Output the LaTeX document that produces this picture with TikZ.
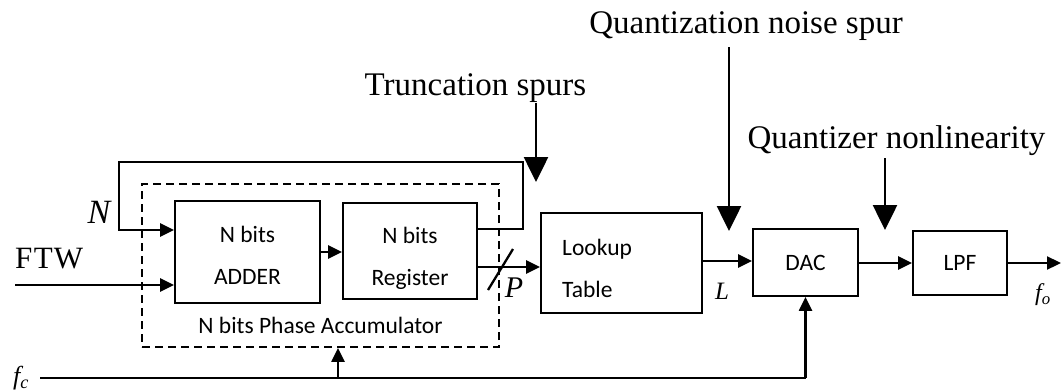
\documentclass[tikz,border=0pt]{standalone}
\usepackage{fontspec}
\setmainfont{Liberation Serif}
\newfontfamily\boxfont{Carlito}
\usetikzlibrary{arrows.meta}
\begin{document}
\begin{tikzpicture}[x=1pt,y=-1pt,
 blk/.style={draw, line width=1.8pt, rectangle, inner sep=0pt},
 btxt/.style={font=\boxfont\fontsize{23.5}{42}\selectfont, align=center, inner sep=0pt},
 flow/.style={line width=2.3pt, -{Triangle[width=13pt,length=14pt]}},
 wire/.style={line width=2.3pt},
 spur/.style={line width=2.6pt, -{Triangle[width=24pt,length=25pt]}},
 lbl/.style={font=\fontsize{33}{36}\selectfont, inner sep=0pt, anchor=base},
 var/.style={font=\itshape\fontsize{30}{32}\selectfont, inner sep=0pt},
 ]
\useasboundingbox[fill=white] (0,0) rectangle (1061,391);
% boxes
\node[blk, minimum width=145pt, minimum height=102pt] (adder) at (247.5,252) {};
\node[btxt] (addert) at (247.5,255) {N bits\\ADDER};
\node[blk, minimum width=134pt, minimum height=96pt] (reg) at (410,251) {};
\node[btxt] (regt) at (410,258) {N bits\\Register};
\node[blk, minimum width=161pt, minimum height=100pt] (lut) at (621.5,263) {};
\node[btxt, align=left, anchor=west] (lutt) at (562,268) {Lookup\\Table};
\node[blk, minimum width=105pt, minimum height=67pt] (dac) at (805.5,262.5) {};
\node[btxt] (dact) at (dac.center) {DAC};
\node[blk, minimum width=94pt, minimum height=64pt] (lpf) at (960,263) {};
\node[btxt] (lpft) at (lpf.center) {LPF};
% accumulator
\node[draw, line width=1.8pt, dash pattern=on 8pt off 5pt, minimum width=357pt, minimum height=163pt, inner sep=0pt] (acc) at (320.5,265.5) {};
\node[btxt] (acct) at (320.5,325) {N bits Phase Accumulator};
% labels
\node[lbl] (trunc) at (475.5,95) {Truncation spurs};
\node[lbl] (qnoise) at (746,33) {Quantization noise spur};
\node[lbl] (qnl) at (896.5,148) {Quantizer nonlinearity};
\node[font=\fontsize{31}{32}\selectfont, inner sep=0pt, anchor=base west] (ftw) at (15,268) {F\kern1.5pt T\kern1pt W};
\node[var, font=\itshape\fontsize{34}{36}\selectfont] (nlab) at (99,212) {N};
\node[var, font=\itshape\fontsize{30}{32}\selectfont] (plab) at (514,288) {P};
\node[var, font=\itshape\fontsize{25}{28}\selectfont] (llab) at (722,291) {L};
\node[var, font=\itshape\fontsize{26}{28}\selectfont] (fclab) at (21,378) {f\textsubscript{c}};
\node[var, font=\itshape\fontsize{24}{28}\selectfont] (folab) at (1043,295) {f\textsubscript{o}};
% coordinates
\coordinate (ftwin) at (15,285);
\coordinate (fcin) at (40,378);
\coordinate (fcacc) at (338,378);
\coordinate (fcend) at (805.5,378);
\coordinate (out) at (1061,263);
\coordinate (fbR) at (523,229);
\coordinate (fbL) at (119,162);
% connections
\draw[flow] (ftwin) -- (ftwin -| adder.west);
\draw[flow] (adder.east |- 0,252) -- (reg.west |- 0,252);
\draw[flow] (reg.east |- 0,267) -- (lut.west |- 0,267);
\draw[wire] (488,290) -- (513,249);
\draw[flow] (reg.east |- fbR) -- (fbR) |- (fbL) -- (119,230) -- (adder.west |- 0,230);
\draw[flow] (lut.east |- 0,261) -- (dac.west |- 0,261);
\draw[flow] (dac.east |- 0,263) -- (lpf.west |- 0,263);
\draw[flow] (lpf.east |- out) -- (out);
\draw[wire] (fcin) -- (fcend);
\draw[flow] (fcend) -- (dac.south);
\draw[flow] (fcacc) -- (fcacc |- acc.south);
% spurs
\draw[spur] (536,103) -- (536,182);
\draw[spur] (729,47) -- (729,231);
\draw[spur] (885,158) -- (885,230);
\end{tikzpicture}
\end{document}
